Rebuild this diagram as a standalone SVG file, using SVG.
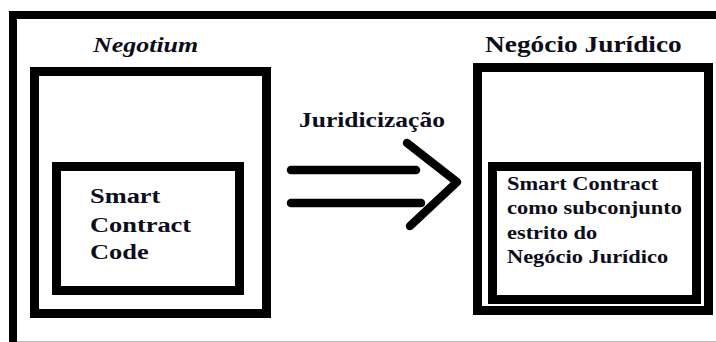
<svg xmlns="http://www.w3.org/2000/svg" width="716" height="342" viewBox="0 0 716 342">
<style>
.box{fill:none;stroke:#000;stroke-width:9}
.ar{fill:none;stroke:#000;stroke-width:8.5;stroke-linecap:round;stroke-linejoin:round}
</style>
<rect x="0" y="0" width="716" height="342" fill="#fff"/>
<g id="frame">
<path d="M13,342 V15 H716" fill="none" stroke="#000" stroke-width="8"/>
<line x1="17" y1="341.5" x2="716" y2="341.5" stroke="#bdbdbd" stroke-width="1"/>
</g>
<g id="negotium">
<text transform="translate(93,52) scale(1.18,1)" x="0" y="0" font-family="Liberation Serif" font-weight="bold" fill="#0d0d1a" font-size="22" font-style="italic">Negotium</text>
<rect class="box" x="34.5" y="71.5" width="232" height="242"/>
</g>
<g id="smart-contract-code">
<rect class="box" x="56.5" y="166.5" width="183" height="124"/>
<text transform="translate(90,0) scale(1.2,1)" font-family="Liberation Serif" font-weight="bold" fill="#0d0d1a" font-size="22">
<tspan x="0" y="203">Smart</tspan>
<tspan x="0" y="232">Contract</tspan>
<tspan x="0" y="259">Code</tspan>
</text>
</g>
<g id="negocio-juridico">
<text transform="translate(485,52) scale(1.19,1)" x="0" y="0" font-family="Liberation Serif" font-weight="bold" fill="#0d0d1a" font-size="23">Negócio Jurídico</text>
<rect class="box" x="477.5" y="67.5" width="231" height="243"/>
</g>
<g id="smart-contract-subset">
<rect class="box" x="492.5" y="166.5" width="204" height="133"/>
<text transform="translate(507,0) scale(1.18,1)" font-family="Liberation Serif" font-weight="bold" fill="#0d0d1a" font-size="19">
<tspan x="0" y="190">Smart Contract</tspan>
<tspan x="0" y="214">como subconjunto</tspan>
<tspan x="0" y="239">estrito do</tspan>
<tspan x="0" y="263">Negócio Jurídico</tspan>
</text>
</g>
<g id="connectors">
<text transform="translate(299,127) scale(1.16,1)" x="0" y="0" font-family="Liberation Serif" font-weight="bold" fill="#0d0d1a" font-size="22">Juridicização</text>
<line class="ar" x1="291" y1="170" x2="416" y2="170"/>
<line class="ar" x1="291" y1="203" x2="421" y2="203"/>
<polyline class="ar" points="407,143 457,182 410,226"/>
</g>
</svg>
